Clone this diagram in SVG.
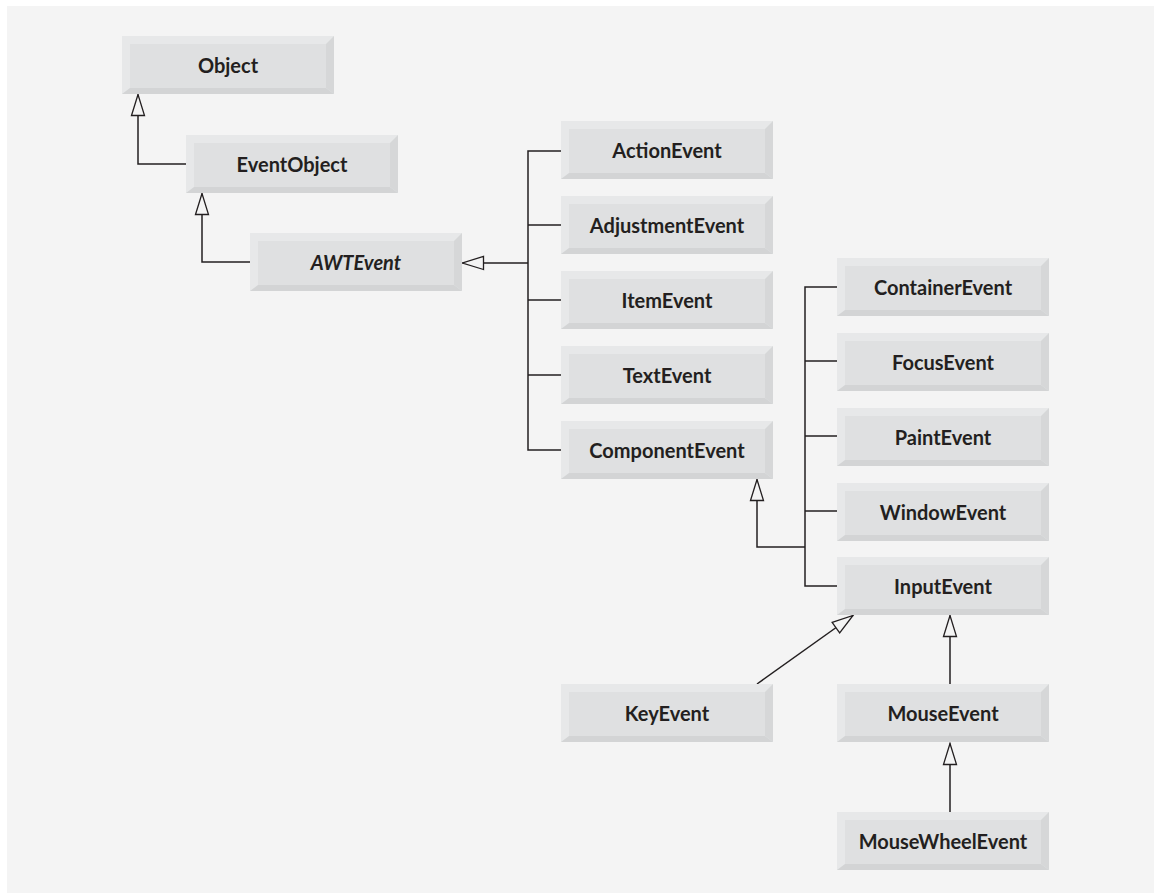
<svg xmlns="http://www.w3.org/2000/svg" xmlns:xlink="http://www.w3.org/1999/xlink" width="1154" height="893" viewBox="0 0 1154 893">
<style>
.lbl{font-family:Lato,"Open Sans","Liberation Sans",sans-serif;font-weight:700;font-size:20px;fill:#231f20;text-anchor:middle}
.it{font-style:italic}
.conn{fill:none;stroke:#231f20;stroke-width:1.5}
</style>
<defs>
<g id="box">
<rect x="0" y="0" width="212" height="58" fill="#e7e8e9"/>
<polygon points="212,0 212,58 204,52 204,8" fill="#d6d7d8"/>
<polygon points="0,58 212,58 204,52 8,52" fill="#d3d4d5"/>
<rect x="8" y="8" width="196" height="44" fill="#dfe0e1"/>
</g>
<marker id="tri" markerUnits="userSpaceOnUse" markerWidth="24" markerHeight="16" viewBox="-1 -8 23 16" refX="21" refY="0" orient="auto">
<polygon points="0,-6.5 21,0 0,6.5" fill="#f4f4f4" stroke="#231f20" stroke-width="1.3"/>
</marker>
</defs>
<rect x="0" y="0" width="1154" height="893" fill="#ffffff"/>
<rect x="7" y="6" width="1147" height="887" fill="#f4f4f4"/>
<g id="connectors">
<path class="conn" d="M186,164 H138 V94.5" marker-end="url(#tri)"/>
<path class="conn" d="M250,262 H202 V193.5" marker-end="url(#tri)"/>
<path class="conn" d="M528,263 H462.5" marker-end="url(#tri)"/>
<path class="conn" d="M561,151 H528 V450 H561 M528,225 H561 M528,300 H561 M528,375 H561"/>
<path class="conn" d="M805,547 H757 V479.5" marker-end="url(#tri)"/>
<path class="conn" d="M837,287 H805 V586 H837 M805,361 H837 M805,436 H837 M805,511 H837"/>
<path class="conn" d="M757,684 L853,615.5" marker-end="url(#tri)"/>
<path class="conn" d="M950,684 V615.5" marker-end="url(#tri)"/>
<path class="conn" d="M950,812 V743.5" marker-end="url(#tri)"/>
</g>
<g id="Object"><use xlink:href="#box" x="122" y="36"/><text class="lbl" x="228" y="73">Object</text></g>
<g id="EventObject"><use xlink:href="#box" x="186" y="135"/><text class="lbl" x="292" y="172">EventObject</text></g>
<g id="AWTEvent"><use xlink:href="#box" x="250" y="233"/><text class="lbl it" x="356" y="270">AWTEvent</text></g>
<g id="ActionEvent"><use xlink:href="#box" x="561" y="121"/><text class="lbl" x="667" y="158">ActionEvent</text></g>
<g id="AdjustmentEvent"><use xlink:href="#box" x="561" y="196"/><text class="lbl" x="667" y="233">AdjustmentEvent</text></g>
<g id="ItemEvent"><use xlink:href="#box" x="561" y="271"/><text class="lbl" x="667" y="308">ItemEvent</text></g>
<g id="TextEvent"><use xlink:href="#box" x="561" y="346"/><text class="lbl" x="667" y="383">TextEvent</text></g>
<g id="ComponentEvent"><use xlink:href="#box" x="561" y="421"/><text class="lbl" x="667" y="458">ComponentEvent</text></g>
<g id="ContainerEvent"><use xlink:href="#box" x="837" y="258"/><text class="lbl" x="943" y="295">ContainerEvent</text></g>
<g id="FocusEvent"><use xlink:href="#box" x="837" y="333"/><text class="lbl" x="943" y="370">FocusEvent</text></g>
<g id="PaintEvent"><use xlink:href="#box" x="837" y="408"/><text class="lbl" x="943" y="445">PaintEvent</text></g>
<g id="WindowEvent"><use xlink:href="#box" x="837" y="483"/><text class="lbl" x="943" y="520">WindowEvent</text></g>
<g id="InputEvent"><use xlink:href="#box" x="837" y="557"/><text class="lbl" x="943" y="594">InputEvent</text></g>
<g id="KeyEvent"><use xlink:href="#box" x="561" y="684"/><text class="lbl" x="667" y="721">KeyEvent</text></g>
<g id="MouseEvent"><use xlink:href="#box" x="837" y="684"/><text class="lbl" x="943" y="721">MouseEvent</text></g>
<g id="MouseWheelEvent"><use xlink:href="#box" x="837" y="812"/><text class="lbl" x="943" y="849">MouseWheelEvent</text></g>
</svg>
